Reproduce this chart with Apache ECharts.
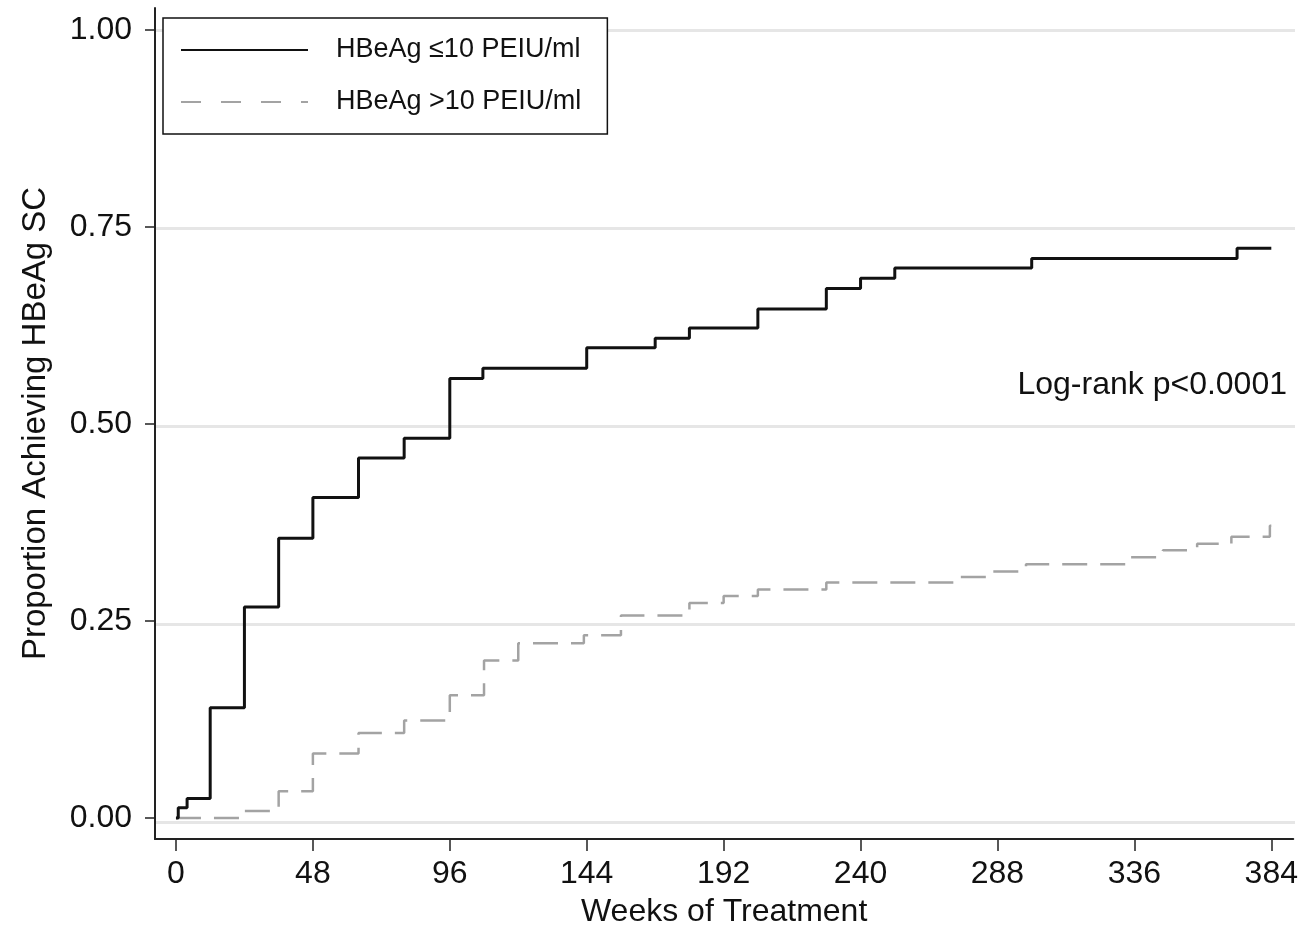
<!DOCTYPE html>
<html>
<head>
<meta charset="utf-8">
<script src="https://cdn.jsdelivr.net/npm/echarts@6/dist/echarts.min.js"></script>
<style>
  html, body { margin: 0; padding: 0; background: #fff; }
  #chart { width: 1301px; height: 933px; }
</style>
</head>
<body>
<div id="chart"></div>
<script>
// Kaplan-Meier style cumulative proportions
var weeksLow = [0, 0.8, 3.9, 12, 24, 36, 48, 64, 80, 96, 107.6, 144, 168, 180, 204, 228, 240, 252, 300, 372, 384];
var propLow  = [0, 0.013, 0.025, 0.140, 0.268, 0.355, 0.407, 0.457, 0.482, 0.558, 0.571, 0.597, 0.609, 0.622, 0.646, 0.672, 0.685, 0.698, 0.710, 0.723, 0.723];

var weeksHigh = [0, 24, 36, 48, 64, 80, 96, 108, 120, 143, 156, 180, 192, 204, 228, 273, 285, 298, 334, 346, 358, 370, 383.5, 384];
var propHigh  = [0, 0.009, 0.034, 0.082, 0.108, 0.124, 0.156, 0.200, 0.222, 0.232, 0.257, 0.273, 0.282, 0.290, 0.299, 0.306, 0.313, 0.322, 0.331, 0.340, 0.348, 0.357, 0.371, 0.371];

var xTicks = [0, 48, 96, 144, 192, 240, 288, 336, 384];
var yTicks = [0, 0.25, 0.5, 0.75, 1];

var nameLow = 'HBeAg \u226410 PEIU/ml';
var nameHigh = 'HBeAg >10 PEIU/ml';

var FONT = "'Liberation Sans', Arial, Helvetica, sans-serif";
var INK = '#111';

function pairs(xs, ys) {
    return xs.map(function (x, i) { return [x, ys[i]]; });
}

var chart = echarts.init(document.getElementById('chart'), null, { renderer: 'canvas' });

var option = {
    animation: false,
    backgroundColor: '#fff',
    grid: [
        // main plot area (axes stick out past 0 and 384 like the Stata figure)
        { left: 155, right: 6, top: 8, bottom: 90 },
        // helper grid only for the horizontal gridlines (0..1)
        { left: 155, right: 6, top: 30, bottom: 111 }
    ],
    xAxis: [{
        type: 'value',
        gridIndex: 0,
        min: -7.35,
        max: 391.7,
        name: 'Weeks of Treatment',
        nameLocation: 'middle',
        nameGap: 57,
        nameTextStyle: { fontFamily: FONT, fontSize: 32, color: INK },
        axisLine: { show: true, onZero: false, lineStyle: { color: '#222', width: 2 } },
        axisTick: { show: true, inside: false, length: 12, customValues: xTicks, lineStyle: { color: '#222', width: 1.5 } },
        axisLabel: { customValues: xTicks, margin: 19, fontFamily: FONT, fontSize: 32, color: INK },
        splitLine: { show: false }
    }, {
        type: 'value',
        gridIndex: 1,
        min: 0,
        max: 1,
        show: false
    }],
    yAxis: [{
        type: 'value',
        gridIndex: 0,
        min: -0.0265,
        max: 1.028,
        name: 'Proportion Achieving HBeAg SC',
        nameLocation: 'middle',
        nameGap: 103,
        nameTextStyle: { fontFamily: FONT, fontSize: 33, color: INK },
        axisLine: { show: true, onZero: false, lineStyle: { color: '#222', width: 2 } },
        axisTick: { show: true, inside: false, length: 10, customValues: yTicks, lineStyle: { color: '#222', width: 1.5 } },
        axisLabel: {
            customValues: yTicks, margin: 23, fontFamily: FONT, fontSize: 32, color: INK,
            formatter: function (v) { return v.toFixed(2); }
        },
        splitLine: { show: false }
    }, {
        type: 'value',
        gridIndex: 1,
        min: 0,
        max: 1,
        interval: 0.25,
        axisLine: { show: false },
        axisTick: { show: false },
        axisLabel: { show: false },
        splitLine: { show: true, lineStyle: { color: '#e6e6e6', width: 3 } }
    }],
    legend: {
        orient: 'vertical',
        left: 163,
        top: 18,
        backgroundColor: '#fff',
        borderColor: '#111',
        borderWidth: 1.5,
        padding: [17, 26, 17, 17],
        itemWidth: 127,
        itemHeight: 16,
        itemGap: 22,
        itemStyle: { opacity: 0 },
        textStyle: { fontFamily: FONT, fontSize: 27, lineHeight: 30, color: INK, padding: [0, 0, 0, 23] },
        data: [
            { name: nameLow },
            { name: nameHigh, lineStyle: { type: [20, 20] } }
        ]
    },
    graphic: [{
        type: 'text',
        right: 14,
        top: 369,
        style: { text: 'Log-rank p<0.0001', fontFamily: FONT, fontSize: 32, fill: INK }
    }],
    series: [{
        name: nameLow,
        type: 'line',
        xAxisIndex: 0,
        yAxisIndex: 0,
        step: 'end',
        symbol: 'none',
        lineStyle: { color: '#111', width: 3 },
        itemStyle: { color: '#111' },
        data: pairs(weeksLow, propLow),
        z: 4
    }, {
        name: nameHigh,
        type: 'line',
        xAxisIndex: 0,
        yAxisIndex: 0,
        step: 'end',
        symbol: 'none',
        lineStyle: { color: '#a3a3a3', width: 2.5, type: [25, 13] },
        itemStyle: { color: '#a3a3a3' },
        data: pairs(weeksHigh, propHigh),
        z: 3
    }]
};

chart.setOption(option);
</script>
</body>
</html>
